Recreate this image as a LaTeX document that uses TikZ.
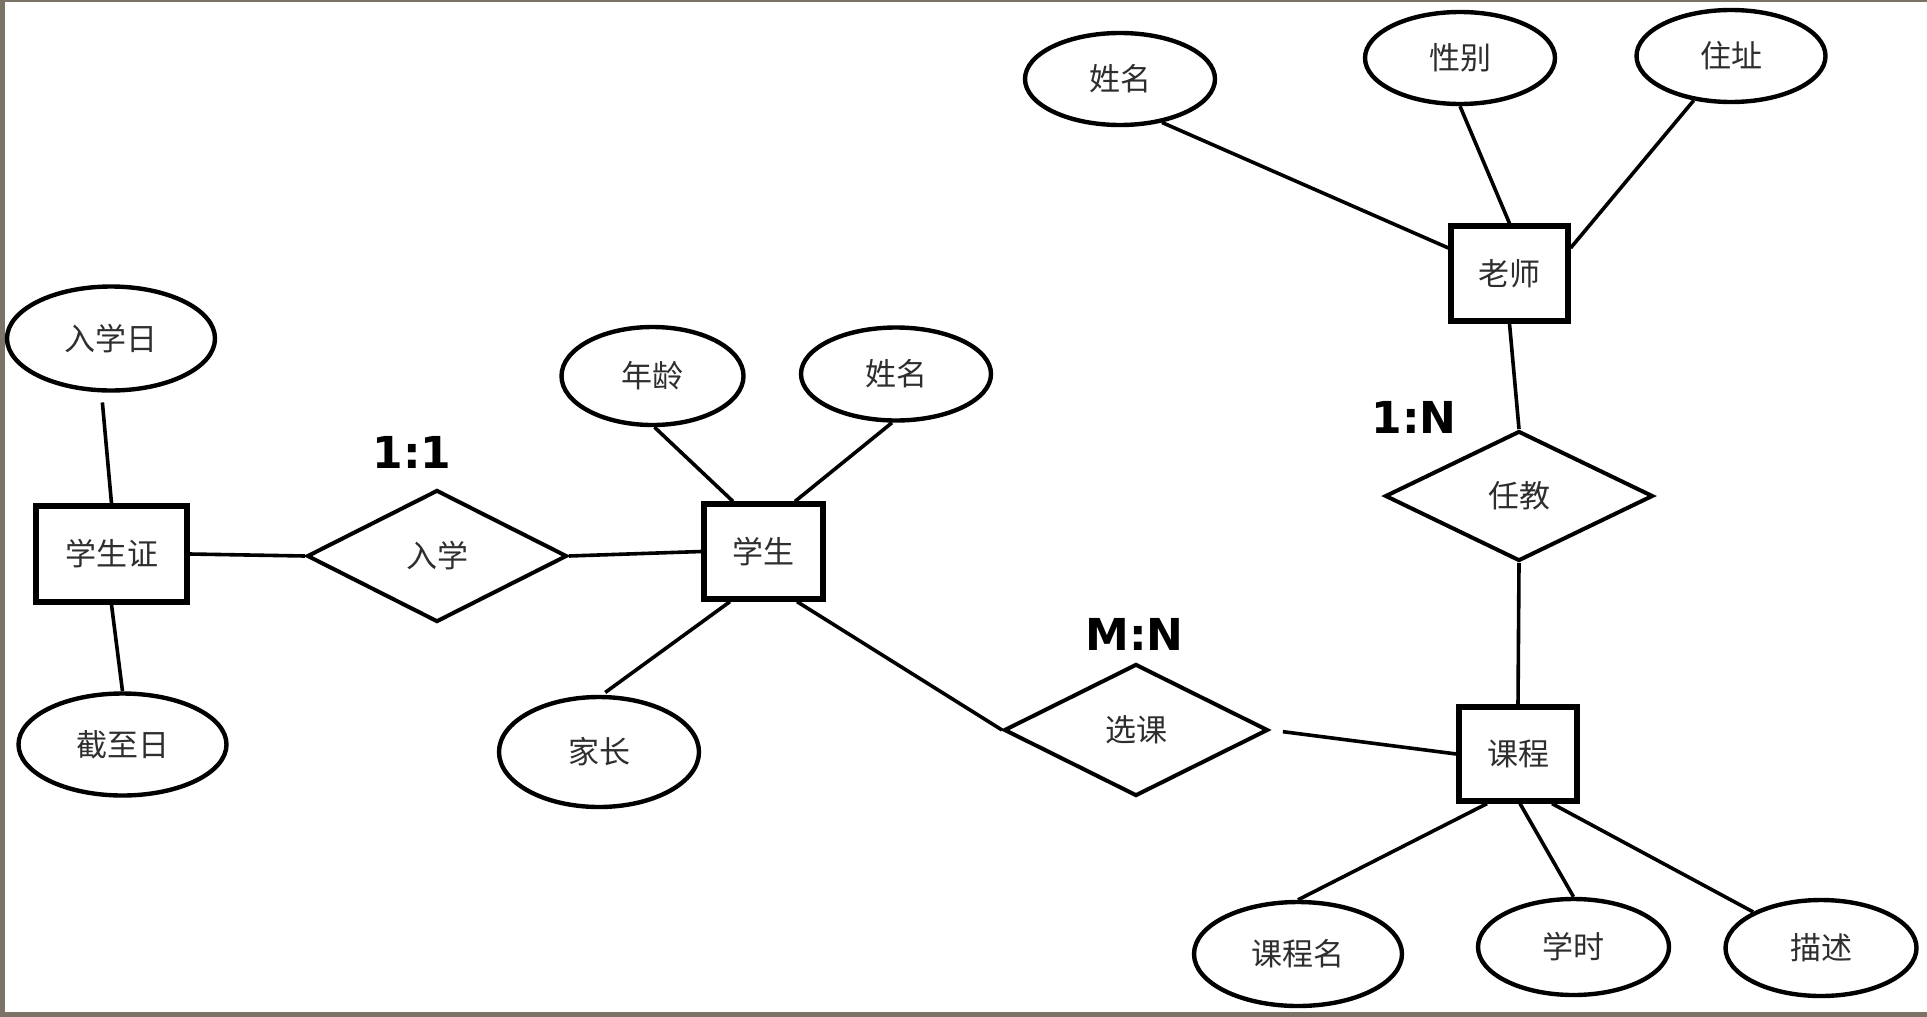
\documentclass[tikz,border=0pt]{standalone}
\usepackage{fontspec}
\newfontfamily\cjk{Noto Sans CJK SC}
\newfontfamily\labfont{DejaVu Sans}
\usetikzlibrary{shapes.geometric}
\definecolor{framec}{HTML}{7B7466}
\definecolor{txtc}{HTML}{2E2E2E}
\tikzset{
  every node/.style={font=\cjk\fontsize{15.5}{18}\selectfont, text=txtc},
  entity/.style 2 args={draw=black, rectangle, line width=2.6pt, minimum width=#1, minimum height=#2, inner sep=0pt},
  attr/.style 2 args={draw=black, ellipse, line width=2.2pt, minimum width=#1, minimum height=#2, inner sep=0pt},
  rel/.style 2 args={draw=black, diamond, line width=2pt, minimum width=#1, minimum height=#2, inner sep=0pt},
  conn/.style={draw=black, line width=1.8pt},
  card/.style={font=\labfont\bfseries\fontsize{22}{25}\selectfont, text=black, inner sep=0pt}
}
\begin{document}
\begin{tikzpicture}[x=0.5pt, y=-0.5pt]
\useasboundingbox (0,0) rectangle (1927,1017);
\fill[white] (0,0) rectangle (1927,1017);
\fill[framec] (0,0) rectangle (5,1017);
\fill[framec] (0,0) rectangle (1927,2);
\fill[framec] (0,1012) rectangle (1927,1017);

% entities
\node[entity={75.5pt}{48pt}] (xsz) at (111.5,554) {学生证};
\node[entity={59.5pt}{47.5pt}] (xs) at (763.5,551.5) {学生};
\node[entity={58.5pt}{47.5pt}] (ls) at (1509.5,273.5) {老师};
\node[entity={59pt}{47pt}] (kc) at (1518,754) {课程};

% relationships
\node[rel={130pt}{66pt}] (rx) at (437,556) {入学};
\node[rel={132pt}{66pt}] (xk) at (1136,730) {选课};
\node[rel={134pt}{65pt}] (rj) at (1519,496) {任教};

% attributes
\node[attr={104pt}{52pt}] (rxr) at (111,338.5) {入学日};
\node[attr={104pt}{51pt}] (jzr) at (122.5,744.5) {截至日};
\node[attr={91pt}{49pt}] (nl) at (652.5,376) {年龄};
\node[attr={95pt}{46.5pt}] (xm1) at (896,374) {姓名};
\node[attr={100pt}{55pt}] (jz) at (599,752) {家长};
\node[attr={95pt}{46pt}] (xm2) at (1120,79) {姓名};
\node[attr={95pt}{46pt}] (xb) at (1460,58) {性别};
\node[attr={94.5pt}{46pt}] (zz) at (1731,56) {住址};
\node[attr={104pt}{52pt}] (kcm) at (1298,954) {课程名};
\node[attr={95.5pt}{48pt}] (xsh) at (1573.5,947) {学时};
\node[attr={95.5pt}{48pt}] (ms) at (1821,948) {描述};

% cardinalities
\node[card] (c1) at (412,452) {1:1};
\node[card] (c2) at (1134.5,634) {M:N};
\node[card] (c3) at (1414,417) {1:N};

% connectors
\draw[conn, shorten <=5pt] (rxr.260) -- (xsz.north);
\draw[conn] (xsz.south) -- (jzr.north);
\draw[conn] (xsz.east) -- (rx.west);
\draw[conn] (rx.east) -- (xs.west);
\draw[conn] ([xshift=1pt]nl.south) -- ([xshift=-15.25pt]xs.north);
\draw[conn] ([xshift=-2pt]xm1.south) -- ([xshift=15.75pt]xs.north);
\draw[conn, shorten >=2pt] ([xshift=-16.75pt]xs.south) -- ([xshift=1.5pt]jz.north);
\draw[conn] ([xshift=16.75pt]xs.south) -- (xk.west);
\draw[conn, shorten <=6.5pt] (xk.east) -- (kc.west);
\draw[conn] (kc.north) -- (rj.south);
\draw[conn] (rj.north) -- (ls.south);
\draw[conn] ([yshift=12.75pt]ls.west) -- (xm2.-46);
\draw[conn] (ls.north) -- (xb.south);
\draw[conn] ([yshift=12.75pt]ls.east) -- (zz.230);
\draw[conn] ([xshift=-15.5pt]kc.south) -- (kcm.north);
\draw[conn] ([xshift=1pt]kc.south) -- (xsh.north);
\draw[conn] ([xshift=17pt]kc.south) -- (ms.152);
\end{tikzpicture}
\end{document}
